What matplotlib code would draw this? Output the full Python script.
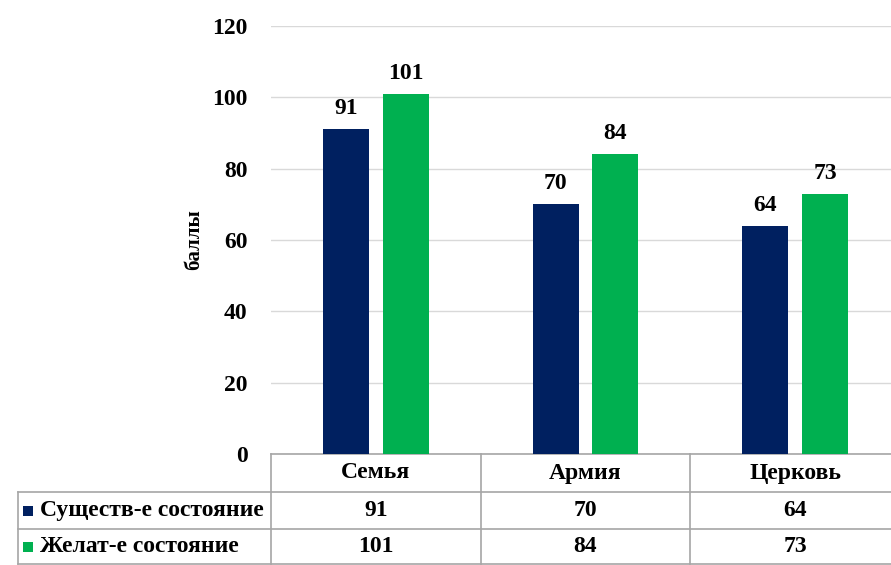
import numpy as np
import matplotlib.pyplot as plt
from matplotlib.patches import Rectangle

categories = ['Семья', 'Армия', 'Церковь']
series_names = ['Существ-е состояние', 'Желат-е состояние']
current = [91, 70, 64]
desired = [101, 84, 73]
colors = ['#002060', '#00b050']

plt.rcParams['font.family'] = ['Liberation Serif', 'DejaVu Serif']
plt.rcParams['font.weight'] = 'bold'

fig = plt.figure(figsize=(8.91, 5.65), dpi=100)
W, H = 891, 565
ax = fig.add_axes([271 / W, 111 / H, 629 / W, 428 / H])

x = np.arange(len(categories))
bw = 0.22
off = 0.142
for vals, col, dx in [(current, colors[0], -off), (desired, colors[1], off)]:
    bars = ax.bar(x + dx, vals, width=bw, color=col, zorder=3)
    for b, v in zip(bars, vals):
        ax.text(b.get_x() + b.get_width() / 2, v + 2.8, str(v), ha='center', va='bottom',
                fontsize=17, fontweight='bold')

ax.set_xlim(-0.5, 2.5)
ax.set_ylim(0, 120)
ax.set_yticks(np.arange(0, 121, 20))
ax.tick_params(axis='y', length=0, pad=17, labelsize=17)
ax.set_xticks([])
for lbl in ax.get_yticklabels():
    lbl.set_fontweight('bold')
ax.grid(axis='y', color='#d9d9d9', linewidth=1, zorder=0)
for s in ax.spines.values():
    s.set_visible(False)
ax.set_ylabel('баллы', fontsize=15, fontweight='bold', labelpad=6)

# data table under the plot
tr = ax.get_xaxis_transform()
line_kw = dict(color='#a6a6a6', linewidth=1.2, transform=tr, clip_on=False)
left = -0.5 - (271 - 18) / (629 / 3)
y_head, y_r1, y_r2, y_bot = 0.0, -38 / 428, -75 / 428, -110 / 428

ax.plot([-0.5, 2.6], [y_head, y_head], **line_kw)
for yy in (y_r1, y_r2, y_bot):
    ax.plot([left, 2.6], [yy, yy], **line_kw)
ax.plot([left, left], [y_r1, y_bot], **line_kw)
for xx in (-0.5, 0.5, 1.5):
    ax.plot([xx, xx], [y_head, y_bot], **line_kw)

for i, c in enumerate(categories):
    ax.text(i, (y_head + y_r1) / 2, c, transform=tr, ha='center', va='center',
            fontsize=17, fontweight='bold')

for row, (name, vals, col) in enumerate(zip(series_names, [current, desired], colors)):
    yc = [(y_r1 + y_r2) / 2, (y_r2 + y_bot) / 2][row]
    ax.add_patch(Rectangle((left + 5 / 209.67, yc - 5 / 428), 10 / 209.67, 10 / 428,
                           facecolor=col, transform=tr, clip_on=False))
    ax.text(left + 22 / 209.67, yc, name, transform=tr, ha='left', va='center',
            fontsize=17, fontweight='bold')
    for i, v in enumerate(vals):
        ax.text(i, yc, str(v), transform=tr, ha='center', va='center',
                fontsize=17, fontweight='bold')

fig.savefig('out.png', dpi=100)
